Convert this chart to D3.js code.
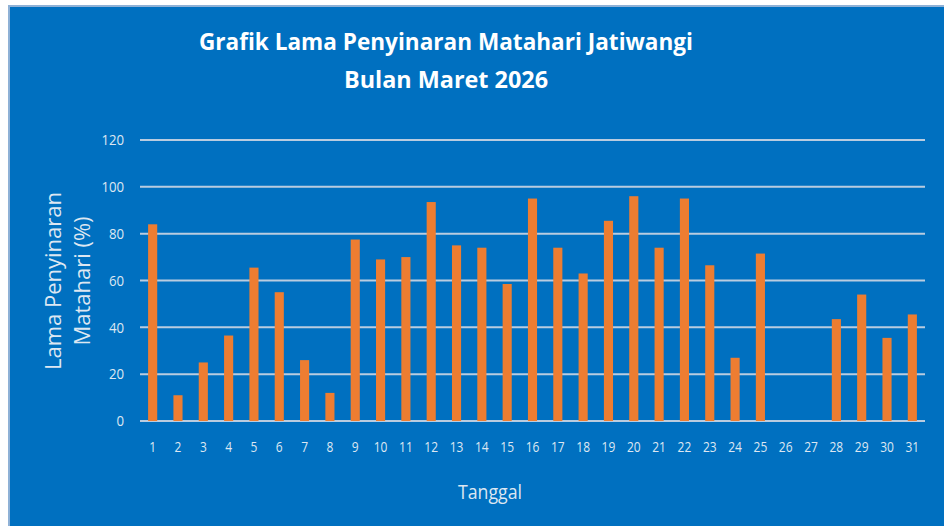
<!DOCTYPE html>
<html>
<head>
<meta charset="utf-8">
<script src="https://cdn.jsdelivr.net/npm/d3@7"></script>
<style>
    body { margin: 0; background: #ffffff; }
    svg { display: block; }
</style>
</head>
<body>
<div class="chart"></div>
<script>
// data
let days = d3.range(1, 32).map(String);
let sunshine = [84, 11, 25, 36.5, 65.5, 55, 26, 12, 77.5, 69, 70, 93.5, 75, 74, 58.5,
    95, 74, 63, 85.5, 96, 74, 95, 66.5, 27, 71.5, 0, 0, 43.5, 54, 35.5, 45.5];
let yTicks = [0, 20, 40, 60, 80, 100, 120];
let titleLines = ["Grafik Lama Penyinaran Matahari Jatiwangi", "Bulan Maret 2026"];
let yTitleLines = ["Lama Penyinaran", "Matahari (%)"];
let xTitle = "Tanggal";

let data = days.map((d, i) => ({day: d, value: sunshine[i]}));

let W = 944, H = 526;
let margin = {top: 140, right: 19, bottom: 105, left: 140},
    width = W - margin.left - margin.right,
    height = H - margin.top - margin.bottom;

let svg = d3.select(".chart")
    .append("svg")
    .attr("width", W)
    .attr("height", H);

// chart background with light frame
svg.append("rect")
    .attr("x", 8).attr("y", 5)
    .attr("width", W - 8).attr("height", H - 5)
    .attr("fill", "#8fb1d6");
svg.append("rect")
    .attr("x", 10).attr("y", 7)
    .attr("width", W - 10).attr("height", H - 7)
    .attr("fill", "#0070c0");

let g = svg.append("g")
    .attr("transform", "translate(" + margin.left + "," + margin.top + ")");

let x = d3.scaleBand()
    .domain(days)
    .range([0, width])
    .paddingInner(0.64)
    .paddingOuter(0.32);

let y = d3.scaleLinear()
    .domain([0, 120])
    .range([height, 0]);

// gridlines
g.append("g")
    .selectAll("line")
    .data(yTicks)
    .join("line")
    .attr("x1", 0)
    .attr("x2", width)
    .attr("y1", d => y(d))
    .attr("y2", d => y(d))
    .attr("stroke", "#b9cce0")
    .attr("stroke-width", 2);

// Y axis labels
let yAxis = g.append("g")
    .call(d3.axisLeft(y).tickValues(yTicks).tickSize(0).tickPadding(16));
yAxis.select(".domain").remove();
yAxis.selectAll("text")
    .attr("fill", "#dde7f2")
    .style("font-family", "'Open Sans', sans-serif")
    .style("font-size", "15px")
    .attr("transform", "translate(-16,0)scale(0.88,1)")
    .attr("x", 0);

// X axis labels
let xAxis = g.append("g")
    .attr("transform", "translate(0," + height + ")")
    .call(d3.axisBottom(x).tickSize(0).tickPadding(20));
xAxis.select(".domain").remove();
xAxis.selectAll("text")
    .attr("fill", "#dde7f2")
    .style("font-family", "'Open Sans', sans-serif")
    .style("font-size", "15px")
    .attr("transform", "scale(0.8,1)");

// Bars
g.selectAll(".bar")
    .data(data)
    .join("rect")
    .attr("class", "bar")
    .attr("x", d => x(d.day))
    .attr("y", d => y(d.value))
    .attr("width", x.bandwidth())
    .attr("height", d => height - y(d.value))
    .attr("fill", "#ed7d31");

// Title
svg.selectAll(".title")
    .data(titleLines)
    .join("text")
    .attr("class", "title")
    .attr("x", 446)
    .attr("y", (d, i) => 50 + i * 38)
    .attr("text-anchor", "middle")
    .attr("fill", "#ffffff")
    .style("font-family", "'Open Sans', sans-serif")
    .style("font-weight", "bold")
    .style("font-size", "23px")
    .attr("textLength", (d, i) => i == 0 ? 494 : 204)
    .attr("lengthAdjust", "spacingAndGlyphs")
    .text(d => d);

// Y title
svg.selectAll(".ytitle")
    .data(yTitleLines)
    .join("text")
    .attr("class", "ytitle")
    .attr("transform", (d, i) => "translate(" + (61 + i * 29) + ",281)rotate(-90)")
    .attr("text-anchor", "middle")
    .attr("fill", "#dde7f2")
    .style("font-family", "'Open Sans', sans-serif")
    .style("font-size", "22px")
    .text(d => d);

// X title
svg.append("text")
    .attr("x", 490)
    .attr("y", 499)
    .attr("text-anchor", "middle")
    .attr("fill", "#dde7f2")
    .style("font-family", "'Open Sans', sans-serif")
    .style("font-size", "20px")
    .attr("textLength", 64)
    .attr("lengthAdjust", "spacingAndGlyphs")
    .text(xTitle);
</script>
</body>
</html>
